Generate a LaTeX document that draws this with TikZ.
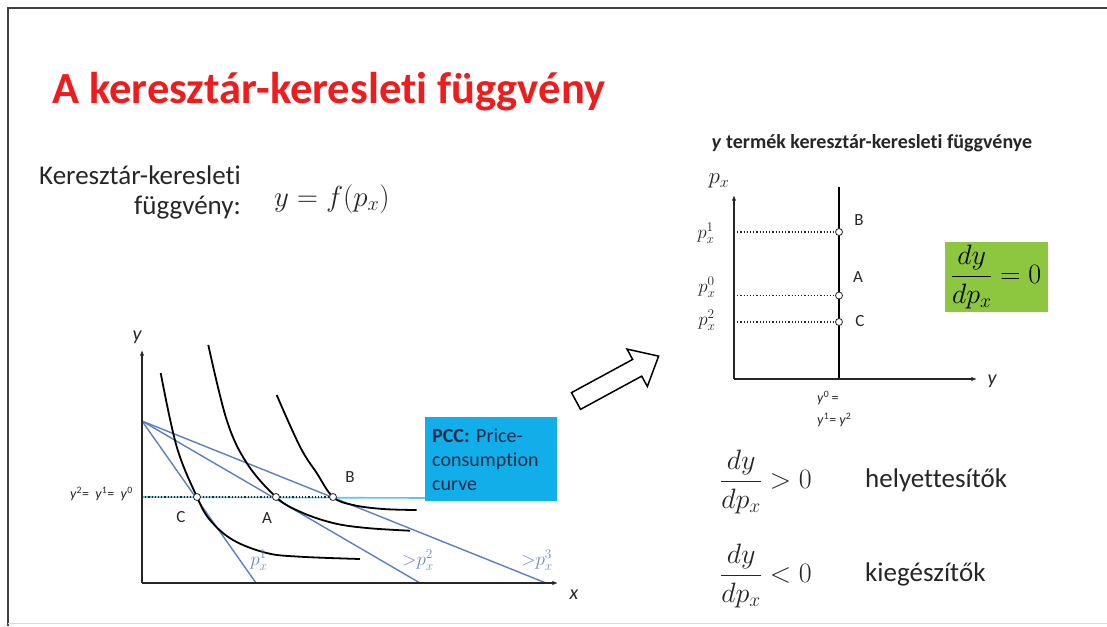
\RequirePackage{fix-cm}
\documentclass[tikz,border=0pt]{standalone}
\usepackage{amsmath}
\usepackage{fontspec}
\setmainfont{Carlito}[Ligatures=NoCommon]
\usetikzlibrary{arrows.meta,positioning,calc}
\definecolor{titlered}{HTML}{EE1C1C}
\definecolor{budgetblue}{HTML}{5B7FC0}
\definecolor{pricetext}{HTML}{6F86C6}
\definecolor{pccblue}{HTML}{12AEEA}
\definecolor{pcctext}{HTML}{1F2A44}
\definecolor{zerogreen}{HTML}{8DC63F}
\definecolor{inkgray}{HTML}{262626}
\tikzset{
  title/.style={font=\fontsize{44.5}{48}\selectfont\bfseries, text=titlered, inner sep=0pt},
  bodytext/.style={font=\fontsize{27}{30}\selectfont, text=inkgray, inner sep=0pt},
  bigmath/.style={font=\fontsize{28}{32}\selectfont, text=inkgray, inner sep=0pt},
  axis/.style={-{Latex[length=2mm,width=1.6mm]}, line width=1.3pt, draw=inkgray},
  axislabel/.style={font=\fontsize{20}{22}\selectfont\itshape, text=inkgray, inner sep=0pt},
  budget/.style={line width=1.4pt, draw=budgetblue},
  indiff/.style={line width=1.8pt, draw=black},
  demand/.style={line width=1.8pt, draw=black},
  dotline/.style={dotted, line width=1.2pt, draw=inkgray},
  pccline/.style={line width=1.6pt, draw=pccblue!70},
  optpt/.style={circle, draw=inkgray, fill=white, line width=0.8pt, inner sep=0pt, minimum size=7pt},
  ptlabel/.style={font=\fontsize{17}{20}\selectfont, text=inkgray, inner sep=0pt},
  pricelabel/.style={font=\fontsize{19}{22}\selectfont, text=pricetext, inner sep=0pt},
  smalllabel/.style={font=\fontsize{14}{16}\selectfont, text=inkgray, inner sep=0pt},
  pccbox/.style={fill=pccblue, text=pcctext, align=left, font=\fontsize{20}{24}\selectfont,
    text width=118pt, minimum width=132pt, minimum height=84pt, inner xsep=7pt},
  greenbox/.style={fill=zerogreen, minimum width=103pt, minimum height=70pt, inner sep=0pt},
  bigarrow/.style={draw=black, line width=1.5pt, fill=white, line join=miter}
}

\begin{document}
\begin{tikzpicture}[x=1pt, y=-1pt]
  \useasboundingbox (0,0) rectangle (1107,626);
  % slide frame
  \draw[line width=2pt, draw=black!75] (8,626) -- (8,8) -- (1107,8);
  \draw[line width=0.6pt, draw=black!15] (8,623) -- (1107,623);

  % headings
  \node[title, anchor=west] (ttl) at (52,92) {A keresztár-keresleti függvény};
  \node[bodytext, align=right, anchor=east] (deflab) at (241,192) {Keresztár-keresleti\\függvény:};
  \node[bigmath, font=\fontsize{29}{32}\selectfont, anchor=west] (defeq) at (274,199) {$y=f(p_x)$};

  % left panel: indifference map
  \coordinate (O) at (142,583);
  \coordinate (ytop) at (142,350);
  \coordinate (xend) at (558,583);
  \coordinate (bstart) at (142,421);
  \coordinate (b1) at (256,583);
  \coordinate (b2) at (420,583);
  \coordinate (b3) at (546,583);
  \coordinate (C) at (197,497);
  \coordinate (A) at (276,497);
  \coordinate (B) at (333,497);
  \coordinate (pccfoot) at (425,498);
  \draw[budget] (bstart) -- (b1);
  \draw[budget] (bstart) -- (b2);
  \draw[budget] (bstart) -- (b3);
  \draw[indiff] plot[smooth, tension=0.6] coordinates {(160.7,373) (176.7,446.7) (C) (210,520) (233,540) (266.7,553) (300,556.7) (360,559)};
  \draw[indiff] plot[smooth, tension=0.6] coordinates {(208.3,345) (226.7,420) (246.7,463) (A) (300,511.7) (333,523) (366.7,528) (410,530.7)};
  \draw[indiff] plot[smooth, tension=0.6] coordinates {(276.7,395) (300,446.7) (316.7,473) (B) (353,505) (383,509) (416.7,510)};
  \node[pccbox, anchor=north west] (pcc) at (425,417) {\textbf{PCC:} Price-\\consumption\\curve};
  \draw[pccline] (142,497) -- (pccfoot);
  \draw[dotline] (142,497) -- (B);
  \draw[axis] (O) -- (ytop);
  \draw[axis] (O) -- (xend);
  \node[optpt] (Cpt) at (C) {};
  \node[optpt] (Apt) at (A) {};
  \node[optpt] (Bpt) at (B) {};
  \node[ptlabel] (Clab) at (181,517) {C};
  \node[ptlabel] (Alab) at (267,518) {A};
  \node[ptlabel] (Blab) at (350,477) {B};
  \node[axislabel] (ylab) at (137,337) {y};
  \node[axislabel] (xlab) at (574,595) {x};
  \node[pricelabel] (p1lab) at (259,560) {$p_x^1$};
  \node[pricelabel] (p2lab) at (418,560) {${>}p_x^2$};
  \node[pricelabel] (p3lab) at (537,560) {${>}p_x^3$};
  \node[smalllabel, anchor=east] (eqlab) at (133,494) {\textit{y}\textsuperscript{2}= \ \textit{y}\textsuperscript{1}= \ \textit{y}\textsuperscript{0}};

  % hollow arrow
  \begin{scope}[shift={(576,401)}, rotate=28.5]
    \draw[bigarrow] (0,-9.5) -- (69.6,-9.5) -- (69.6,-21.3) -- (94,0) -- (69.6,21.3) -- (69.6,9.5) -- (0,9.5) -- cycle;
  \end{scope}

  % right panel: cross-price demand
  \node[font=\fontsize{20}{22}\selectfont\bfseries, text=inkgray, inner sep=0pt] (rtitle) at (872,143) {\textit{y} termék keresztár-keresleti függvénye};
  \coordinate (O2) at (734,379);
  \coordinate (pxtop) at (734,195);
  \coordinate (yend) at (977,379);
  \coordinate (dtop) at (839,187);
  \coordinate (B2) at (839,232);
  \coordinate (A2) at (839,295.5);
  \coordinate (C2) at (839,322);
  \draw[dotline] (B2 -| O2) -- (B2);
  \draw[dotline] (A2 -| O2) -- (A2);
  \draw[dotline] (C2 -| O2) -- (C2);
  \draw[demand] (O2 -| dtop) -- (dtop);
  \draw[axis] (O2) -- (pxtop);
  \draw[axis] (O2) -- (yend);
  \node[optpt] (B2pt) at (B2) {};
  \node[optpt] (A2pt) at (A2) {};
  \node[optpt] (C2pt) at (C2) {};
  \node[ptlabel] (B2lab) at (859,220) {B};
  \node[ptlabel] (A2lab) at (858,277) {A};
  \node[ptlabel] (C2lab) at (860,321) {C};
  \node[axislabel, font=\fontsize{23}{25}\selectfont] (pxlab) at (719,181) {$p_x$};
  \node[axislabel] (ylab2) at (992,381) {y};
  \node[pricelabel, text=inkgray] (px1) at (706,233) {$p_x^1$};
  \node[pricelabel, text=inkgray] (px0) at (707,287) {$p_x^0$};
  \node[pricelabel, text=inkgray] (px2) at (707,320) {$p_x^2$};
  \node[smalllabel, anchor=west] (y0lab) at (817,398) {\textit{y}\textsuperscript{0}\,=};
  \node[smalllabel, anchor=west] (y12lab) at (817,420) {\textit{y}\textsuperscript{1}= \textit{y}\textsuperscript{2}};
  \node[greenbox] (zero) at (996,277) {\fontsize{28}{32}\selectfont$\dfrac{dy}{dp_x}=0$};

  % sign cases
  \node[bigmath, anchor=west] (pos) at (720,482) {$\dfrac{dy}{dp_x}>0$};
  \node[bodytext, anchor=west] (subst) at (865,480) {helyettesítők};
  \node[bigmath, anchor=west] (neg) at (720,576) {$\dfrac{dy}{dp_x}<0$};
  \node[bodytext, anchor=west] (compl) at (865,574) {kiegészítők};
\end{tikzpicture}
\end{document}
